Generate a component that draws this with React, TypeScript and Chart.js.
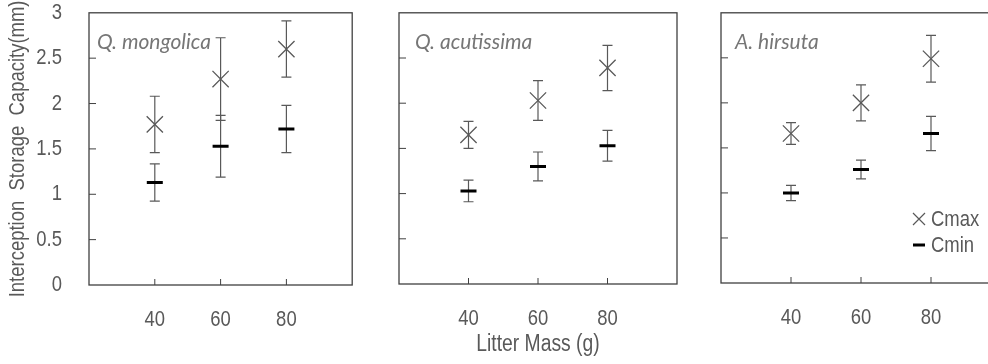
import React, { useEffect, useRef } from 'react';
import { Chart, registerables } from 'chart.js';

Chart.register(...registerables);

// ---------------- data ----------------
const masses = [40, 60, 80];
const xTickValues = [40, 60, 80];
const xTickLabels = ['40', '60', '80'];
const yTickValues = [0, 0.5, 1, 1.5, 2, 2.5, 3];
const yTickLabels = ['0', '0.5', '1', '1.5', '2', '2.5', '3'];
const speciesNames = ['Q. mongolica', 'Q. acutissima', 'A. hirsuta'];
const seriesNames = ['Cmax', 'Cmin'];
const yAxisTitle = 'Interception  Storage  Capacity(mm)';
const xAxisTitle = 'Litter Mass (g)';

const cmaxMongolica = [1.77, 2.27, 2.6];
const cmaxMongolicaErr = [0.31, 0.455, 0.31];
const cminMongolica = [1.13, 1.53, 1.72];
const cminMongolicaErr = [0.205, 0.34, 0.26];

const cmaxAcutissima = [1.65, 2.03, 2.39];
const cmaxAcutissimaErr = [0.15, 0.22, 0.25];
const cminAcutissima = [1.03, 1.3, 1.53];
const cminAcutissimaErr = [0.12, 0.16, 0.17];

const cmaxHirsuta = [1.66, 2.0, 2.49];
const cmaxHirsutaErr = [0.12, 0.2, 0.26];
const cminHirsuta = [1.0, 1.26, 1.66];
const cminHirsutaErr = [0.085, 0.105, 0.19];

// ---------------- styling / layout ----------------
const FONT = "'Liberation Sans', Arial, sans-serif";
const CONDENSE = 0.84;
const TEXT = '#595959';
const MARK = '#595959';
const FRAME = '#404040';
const H = 364;

type PanelCfg = {
  left: number;
  width: number;
  areaLeft: number;
  areaRight: number;
  top: number;
  bottom: number;
  showY: boolean;
  showXTitle: boolean;
  legend: boolean;
  labelDx: number;
  name: string;
  cmax: number[];
  cmaxErr: number[];
  cmin: number[];
  cminErr: number[];
};

const panels: PanelCfg[] = [
  { left: 0, width: 365, areaLeft: 89, areaRight: 358, top: 11, bottom: 285, showY: true, showXTitle: false, legend: false, labelDx: 8,
    name: speciesNames[0], cmax: cmaxMongolica, cmaxErr: cmaxMongolicaErr, cmin: cminMongolica, cminErr: cminMongolicaErr },
  { left: 365, width: 325, areaLeft: 399, areaRight: 677, top: 10, bottom: 284, showY: false, showXTitle: true, legend: false, labelDx: 16,
    name: speciesNames[1], cmax: cmaxAcutissima, cmaxErr: cmaxAcutissimaErr, cmin: cminAcutissima, cminErr: cminAcutissimaErr },
  { left: 690, width: 325, areaLeft: 721, areaRight: 1001, top: 8, bottom: 283, showY: false, showXTitle: false, legend: true, labelDx: 14,
    name: speciesNames[2], cmax: cmaxHirsuta, cmaxErr: cmaxHirsutaErr, cmin: cminHirsuta, cminErr: cminHirsutaErr },
];

// Narrow (condensed) rendering of the upright sans text, as in the original figure.
function condenseText(canvas: HTMLCanvasElement, sx: number) {
  const ctx: any = canvas.getContext('2d');
  if (!ctx || ctx.__condensed) return;
  const orig = ctx.fillText;
  ctx.fillText = function (text: string, x: number, y: number, maxWidth?: number) {
    if (/italic/.test(this.font)) {
      return maxWidth === undefined ? orig.call(this, text, x, y) : orig.call(this, text, x, y, maxWidth);
    }
    this.save();
    this.translate(x, y);
    this.scale(sx, 1);
    if (maxWidth === undefined || maxWidth === null) orig.call(this, text, 0, 0);
    else orig.call(this, text, 0, 0, maxWidth / sx);
    this.restore();
  };
  ctx.__condensed = true;
}

const panelPlugin = {
  id: 'panelDecor',
  beforeDatasetsDraw(chart: any, _args: any, opts: any) {
    const { ctx } = chart;
    const xs = chart.scales.x;
    const ys = chart.scales.y;
    const errs: number[][] = opts.errors;
    ctx.save();
    ctx.strokeStyle = MARK;
    ctx.lineWidth = 1.2;
    chart.data.datasets.forEach((ds: any, di: number) => {
      ds.data.forEach((p: any, i: number) => {
        const e = errs[di][i];
        const x = xs.getPixelForValue(p.x);
        const y1 = ys.getPixelForValue(p.y + e);
        const y2 = ys.getPixelForValue(p.y - e);
        const cap = 5;
        ctx.beginPath();
        ctx.moveTo(x, y1);
        ctx.lineTo(x, y2);
        ctx.moveTo(x - cap, y1);
        ctx.lineTo(x + cap, y1);
        ctx.moveTo(x - cap, y2);
        ctx.lineTo(x + cap, y2);
        ctx.stroke();
      });
    });
    ctx.restore();
  },
  afterDraw(chart: any, _args: any, opts: any) {
    const { ctx, chartArea } = chart;
    const { left, right, top, bottom } = chartArea;
    const xs = chart.scales.x;
    const ys = chart.scales.y;
    ctx.save();
    // frame
    ctx.strokeStyle = FRAME;
    ctx.lineWidth = 1.3;
    ctx.strokeRect(left, top, right - left, bottom - top);
    // inner ticks
    ctx.lineWidth = 1;
    ctx.beginPath();
    yTickValues.forEach((v) => {
      if (v === ys.min || v === ys.max) return;
      const y = ys.getPixelForValue(v);
      ctx.moveTo(left, y);
      ctx.lineTo(left + 7, y);
    });
    xTickValues.forEach((v) => {
      const x = xs.getPixelForValue(v);
      ctx.moveTo(x, bottom);
      ctx.lineTo(x, bottom - 6);
    });
    ctx.stroke();
    // species label
    ctx.fillStyle = '#767676';
    ctx.font = "italic 21px Lato, 'Open Sans', sans-serif";
    ctx.textAlign = 'left';
    ctx.textBaseline = 'alphabetic';
    ctx.fillText(opts.name, left + opts.labelDx, top + 36);
    // legend
    if (opts.legend) {
      const lx = opts.legendX;
      const rows = [opts.legendY, opts.legendY + 26];
      chart.data.datasets.forEach((ds: any, di: number) => {
        const y = rows[di];
        ctx.beginPath();
        ctx.strokeStyle = ds.borderColor;
        if (ds.pointStyle === 'crossRot') {
          ctx.lineWidth = 1.2;
          ctx.moveTo(lx - 6, y - 6);
          ctx.lineTo(lx + 6, y + 6);
          ctx.moveTo(lx + 6, y - 6);
          ctx.lineTo(lx - 6, y + 6);
        } else {
          ctx.lineWidth = 3;
          ctx.moveTo(lx - 6, y);
          ctx.lineTo(lx + 6, y);
        }
        ctx.stroke();
        ctx.fillStyle = TEXT;
        ctx.font = `22px ${FONT}`;
        ctx.textAlign = 'left';
        ctx.textBaseline = 'middle';
        ctx.fillText(ds.label, lx + 12, y + 1);
      });
    }
    ctx.restore();
  },
};

function Panel({ cfg }: { cfg: PanelCfg }) {
  const ref = useRef<HTMLCanvasElement>(null);
  useEffect(() => {
    if (!ref.current) return;
    condenseText(ref.current, CONDENSE);
    const chart = new Chart(ref.current, {
      type: 'scatter',
      data: {
        datasets: [
          {
            label: seriesNames[0],
            data: masses.map((x, i) => ({ x, y: cfg.cmax[i] })),
            pointStyle: 'crossRot',
            pointRadius: 11.5,
            pointBorderWidth: 1.3,
            borderColor: MARK,
            backgroundColor: MARK,
            showLine: false,
          },
          {
            label: seriesNames[1],
            data: masses.map((x, i) => ({ x, y: cfg.cmin[i] })),
            pointStyle: 'line',
            pointRadius: 8,
            pointBorderWidth: 3,
            borderColor: '#000000',
            backgroundColor: '#000000',
            showLine: false,
          },
        ],
      } as any,
      options: {
        responsive: false,
        animation: false,
        events: [],
        layout: { padding: { left: 0, top: cfg.top, right: cfg.left + cfg.width - cfg.areaRight, bottom: 0 } },
        plugins: {
          legend: { display: false },
          tooltip: { enabled: false },
          panelDecor: {
            errors: [cfg.cmaxErr, cfg.cminErr],
            name: cfg.name,
            labelDx: cfg.labelDx,
            legend: cfg.legend,
            legendX: 919 - cfg.left,
            legendY: 219,
          },
        } as any,
        scales: {
          x: {
            type: 'linear',
            min: 20,
            max: 100,
            afterBuildTicks: (s: any) => {
              s.ticks = xTickValues.map((v) => ({ value: v }));
            },
            afterFit: (s: any) => {
              s.height = H - cfg.bottom;
              s.paddingLeft = 0;
              s.paddingRight = 0;
            },
            grid: { display: false },
            border: { display: false },
            ticks: {
              autoSkip: false,
              maxRotation: 0,
              padding: 14,
              color: TEXT,
              font: { family: FONT, size: 22 },
              callback: (_v: any, i: number) => xTickLabels[i],
            },
            title: {
              display: cfg.showXTitle,
              text: xAxisTitle,
              color: TEXT,
              font: { family: FONT, size: 23 },
              padding: { top: 0, bottom: 6 },
            },
          },
          y: {
            type: 'linear',
            min: 0,
            max: 3,
            afterBuildTicks: (s: any) => {
              s.ticks = yTickValues.map((v) => ({ value: v }));
            },
            afterFit: (s: any) => {
              s.width = cfg.areaLeft - cfg.left;
              s.paddingTop = 0;
              s.paddingBottom = 0;
            },
            grid: { display: false },
            border: { display: false },
            ticks: {
              display: cfg.showY,
              padding: 19,
              color: TEXT,
              font: { family: FONT, size: 22 },
              callback: (_v: any, i: number) => yTickLabels[i],
            },
            title: {
              display: cfg.showY,
              text: yAxisTitle,
              color: TEXT,
              font: { family: FONT, size: 22 },
              padding: { top: 5, bottom: 0 },
            },
          },
        },
      } as any,
      plugins: [panelPlugin as any],
    });
    return () => chart.destroy();
  }, [cfg]);
  return (
    <canvas
      ref={ref}
      width={cfg.width}
      height={H}
      style={{ position: 'absolute', left: cfg.left, top: 0, width: cfg.width, height: H }}
    />
  );
}

export default function App() {
  return (
    <div
      style={{
        position: 'absolute',
        left: 0,
        top: 0,
        width: 988,
        height: H,
        overflow: 'hidden',
        background: '#ffffff',
      }}
    >
      {panels.map((p, i) => (
        <Panel key={i} cfg={p} />
      ))}
    </div>
  );
}
